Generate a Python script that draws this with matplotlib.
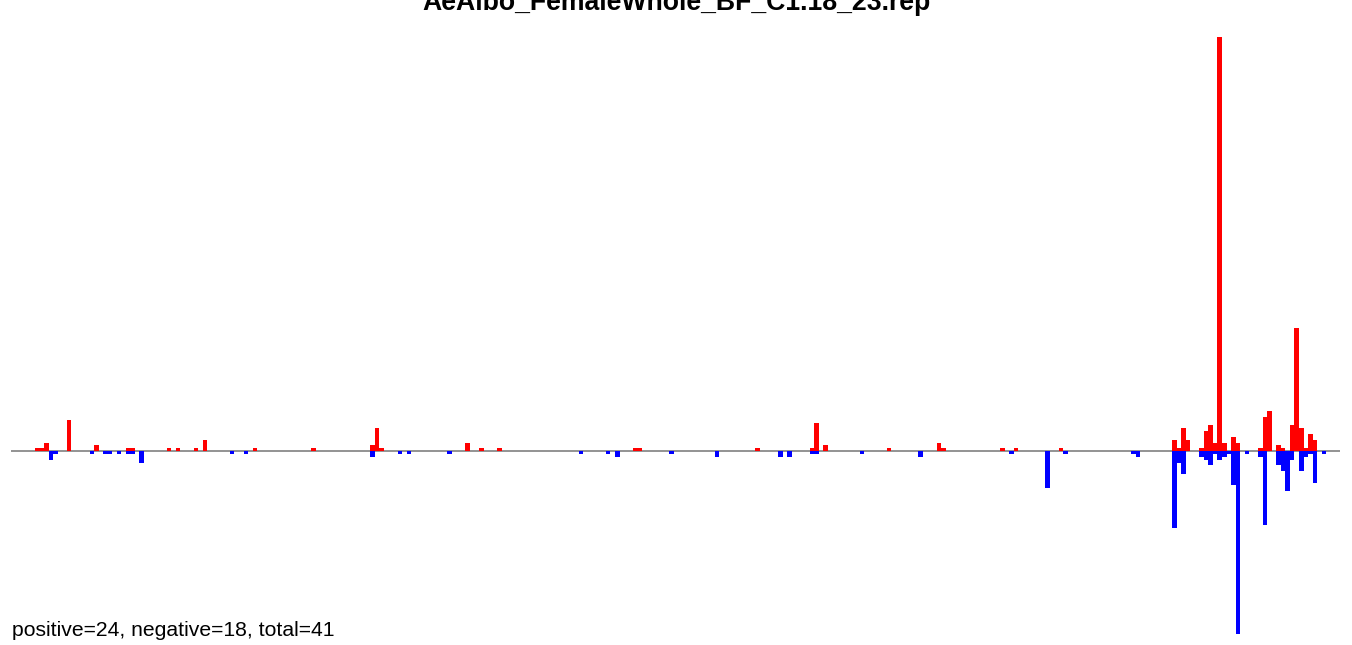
import numpy as np
import matplotlib
matplotlib.use("Agg")
from matplotlib import pyplot as plt

title = "AeAlbo_FemaleWhole_BF_C1.18_23.rep"
summary = "positive=24, negative=18, total=41"

# bin positions and bar heights (red = positive, blue = negative)
pos_bins = [5, 6, 7, 12, 18, 25, 26, 34, 36, 40, 42, 53, 66, 79, 80, 81, 100, 103,
            107, 137, 138, 164, 176, 177, 179, 193, 204, 205, 218, 221, 231, 256,
            257, 258, 259, 262, 263, 264, 265, 266, 267, 269, 270, 275, 276, 277,
            279, 280, 282, 283, 284, 285, 286, 287]
pos_vals = [1, 1, 3, 11, 2, 1, 1, 1, 1, 1, 4, 1, 1, 2, 8, 1, 3, 1,
            1, 1, 1, 1, 1, 10, 2, 1, 3, 1, 1, 1, 1, 4,
            1, 8, 4, 1, 7, 9, 3, 145, 3, 5, 3, 1, 12, 14,
            2, 1, 9, 43, 8, 1, 6, 4]

neg_bins = [8, 9, 17, 20, 21, 23, 25, 26, 28, 48, 51, 79, 85, 87, 96, 125, 131,
            133, 145, 155, 169, 171, 176, 177, 187, 200, 220, 228, 232, 247, 248,
            256, 257, 258, 262, 263, 264, 265, 266, 267, 268, 269, 270, 272, 275,
            276, 279, 280, 281, 282, 284, 285, 286, 287, 289]
neg_vals = [3, 1, 1, 1, 1, 1, 1, 1, 4, 1, 1, 2, 1, 1, 1, 1, 1,
            2, 1, 2, 2, 2, 1, 1, 1, 2, 1, 13, 1, 1, 2,
            27, 4, 8, 2, 3, 5, 1, 3, 2, 1, 12, 64, 1, 2,
            26, 5, 7, 14, 3, 7, 2, 1, 11, 1]

plt.rcParams['font.family'] = ['Liberation Sans', 'DejaVu Sans']

fig = plt.figure(figsize=(13.52, 6.45), dpi=100)
ax = fig.add_axes([11 / 1352, 11 / 645, 1329 / 1352, 597.3 / 645])

ax.axhline(0, color='#808080', lw=1.2, zorder=1)
ax.bar(pos_bins, pos_vals, width=1.0, align='edge', color='#ff0000', linewidth=0, zorder=2)
ax.bar(neg_bins, -np.array(neg_vals), width=1.0, align='edge', color='#0000ff', linewidth=0, zorder=2)

ax.set_xlim(-0.33, 293.05)
ax.set_ylim(-64, 145)
ax.axis('off')

# the title sits partly above the top edge, as in the original
fig.text(0.5, 1 - 10 / 645, title, ha='center', va='baseline',
         fontsize=19.2, fontweight='bold')
fig.text(12 / 1352, 9 / 645, summary, ha='left', va='baseline', fontsize=15.2)

fig.savefig("out.png", dpi=100)
